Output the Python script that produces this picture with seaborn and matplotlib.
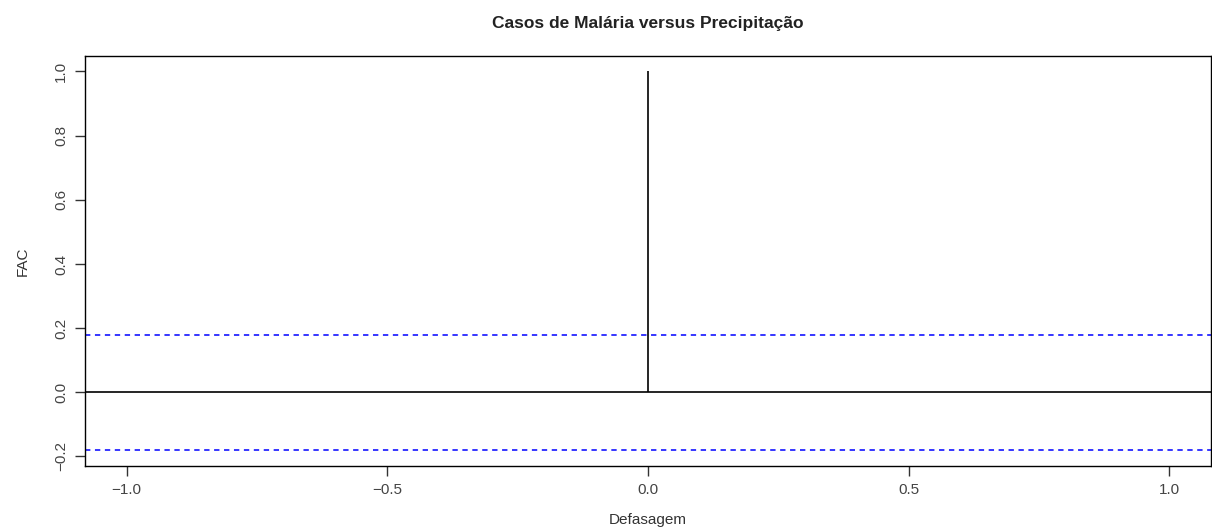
import numpy as np
import matplotlib
matplotlib.use("Agg")
import matplotlib.pyplot as plt
import seaborn as sns

# autocorrelation values (only lag 0 present)
lags = [0.0]
fac = [1.0]
conf_limit = 0.179  # 1.96/sqrt(n)

title = "Casos de Malária versus Precipitação"
xlabel = "Defasagem"
ylabel = "FAC"
xticks = [-1.0, -0.5, 0.0, 0.5, 1.0]
yticks = [-0.2, 0.0, 0.2, 0.4, 0.6, 0.8, 1.0]

sns.set_theme(style="ticks")
plt.rcParams['font.family'] = ['Liberation Sans', 'DejaVu Sans']

fig = plt.figure(figsize=(12.12, 5.3), dpi=100)
ax = fig.add_axes([0.0701, 0.1208, 0.929, 0.7735])

ax.vlines(lags, 0, fac, color="black", linewidth=1.2)
ax.axhline(0, color="black", linewidth=1.2)
for c in (conf_limit, -conf_limit):
    ax.axhline(c, color="#0000ff", linewidth=1.1, linestyle=(0, (3.5, 3)))

ax.set_xlim(-1.08, 1.08)
ax.set_ylim(-0.2296, 1.048)
ax.set_xticks(xticks)
ax.set_yticks(yticks)
ax.set_xticklabels([f"{v:.1f}".replace("-", "\u2212") for v in xticks])
ax.set_yticklabels([f"{v:.1f}".replace("-", "\u2212") for v in yticks],
                   rotation=90, va="center")

for s in ax.spines.values():
    s.set_visible(True)
    s.set_color("black")
    s.set_linewidth(1.0)

ax.tick_params(axis="both", direction="out", length=7, width=1.0,
               color="#333333", labelsize=11, labelcolor="#444444", pad=5)

ax.set_xlabel(xlabel, fontsize=11, color="#333333", labelpad=12)
ax.set_ylabel(ylabel, fontsize=11, color="#333333", labelpad=18)
ax.set_title(title, fontsize=12.5, fontweight="bold", color="#222222", pad=20)

fig.savefig("out.png", dpi=100)
